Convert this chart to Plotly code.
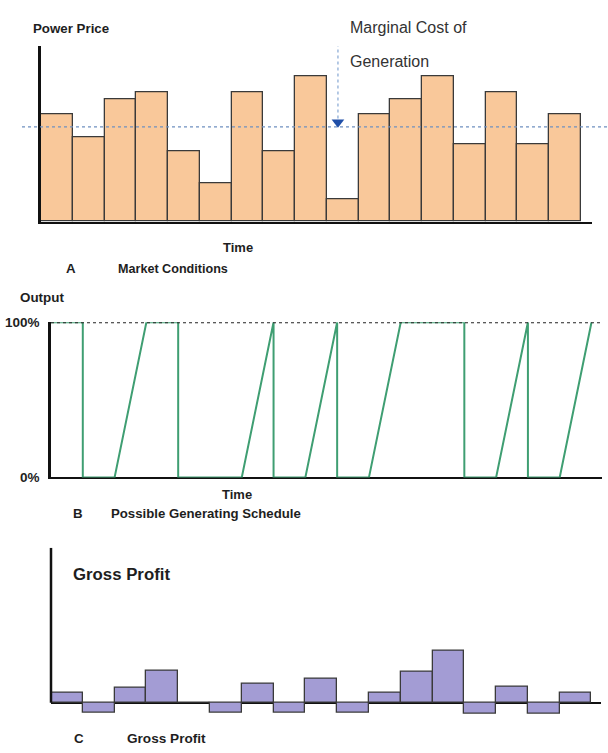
import plotly.graph_objects as go

# ---- data -------------------------------------------------------------
periods = list(range(1, 18))

# power price in each period (arbitrary units)
power_price = [30.5, 24, 35, 37, 20, 11, 37, 20, 41.5, 6.5, 30.5, 35, 41.5, 22, 37, 22, 30.5]
marginal_cost = 27

# plant output (% of capacity) at the start and end of each period
output_start = [100, 0, 0, 100, 0, 0, 0, 0, 0, 0, 0, 100, 100, 0, 0, 0, 0]
output_end = [100, 0, 100, 100, 0, 0, 100, 0, 100, 0, 100, 100, 100, 0, 100, 0, 100]

# gross profit per period (arbitrary units)
gross_profit = [3.4, -3.3, 4.8, 10.2, 0, -3.3, 6.3, -3.3, 7.7, -3.3, 3.4, 10.1, 16.9, -3.6, 5.3, -3.6, 3.4]

# ---- page geometry helpers ----------------------------------------------
W, H = 608, 753


def px(x):
    return x / W


def py(y):
    return 1 - y / H


FONT = "Liberation Sans, Arial, sans-serif"
INK = "#1e1e1e"

fig = go.Figure()

# Panel A: market prices
fig.add_trace(go.Bar(
    x=[p - 0.5 for p in periods], y=power_price, width=1,
    marker=dict(color="#F9C89A", line=dict(color="#3a3a3a", width=1.3)),
    xaxis="x", yaxis="y", showlegend=False, hoverinfo="skip",
))

# arrow head pointing at the marginal cost line
ARROW_X = 9.35
fig.add_trace(go.Scatter(
    x=[ARROW_X], y=[marginal_cost + 1.35], mode="markers",
    marker=dict(symbol="triangle-down", size=11, color="#1f4fa8"),
    xaxis="x", yaxis="y", showlegend=False, hoverinfo="skip", cliponaxis=False,
))

# Panel B: generating schedule
sx, sy = [], []
for i, (a, b) in enumerate(zip(output_start, output_end)):
    sx += [i, i + 1]
    sy += [a, b]
fig.add_trace(go.Scatter(
    x=sx, y=sy, mode="lines",
    line=dict(color="#3f9e72", width=2),
    xaxis="x2", yaxis="y2", showlegend=False, hoverinfo="skip", cliponaxis=False,
))

# Panel C: gross profit
fig.add_trace(go.Bar(
    x=[p - 0.5 for p in periods], y=gross_profit, width=1,
    marker=dict(color="#A39CD4", line=dict(color="#3a3a3a", width=1.3)),
    xaxis="x3", yaxis="y3", showlegend=False, hoverinfo="skip",
))

axis_common = dict(showgrid=False, zeroline=False, showticklabels=False, ticks="", fixedrange=True)

fig.update_layout(
    width=W, height=H,
    margin=dict(l=0, r=0, t=0, b=0),
    paper_bgcolor="white", plot_bgcolor="white",
    bargap=0,
    xaxis=dict(axis_common, domain=[px(41), px(592)], range=[0, 17.35],
               showline=True, linecolor="#111", linewidth=2, anchor="y"),
    yaxis=dict(axis_common, domain=[py(219), py(40)], range=[0, 50],
               showline=True, linecolor="#111", linewidth=2.5, anchor="x"),
    xaxis2=dict(axis_common, domain=[px(51), px(602)], range=[0, 17.33],
                showline=True, linecolor="#111", linewidth=2, anchor="y2", layer="below traces"),
    yaxis2=dict(axis_common, domain=[py(480), py(321.7)], range=[0, 100],
                showline=True, linecolor="#111", linewidth=2.5, anchor="x2",
                showticklabels=True, tickvals=[0, 100], ticktext=["<b>0%</b>", "<b>100%</b>"],
                tickfont=dict(family=FONT, size=13.5, color=INK), ticklabelstandoff=6),
    xaxis3=dict(axis_common, domain=[px(51), px(601)], range=[0, 17.3], showline=False, anchor="y3"),
    yaxis3=dict(axis_common, domain=[py(725.8), py(551.7)], range=[-5, 50], showline=False,
                zeroline=True, zerolinecolor="#111", zerolinewidth=2, anchor="x3"),
)

shapes = [
    # marginal cost of generation
    dict(type="line", xref="paper", x0=px(22), x1=1, yref="y", y0=marginal_cost, y1=marginal_cost,
         line=dict(color="#6f90c0", width=1.2, dash="dot")),
    # arrow shaft
    dict(type="line", xref="x", x0=ARROW_X, x1=ARROW_X, yref="y", y0=marginal_cost + 2.4, y1=50.6,
         line=dict(color="#9db8dc", width=1.5, dash="dot")),
    # full-output reference
    dict(type="line", xref="x2 domain", x0=0, x1=1, yref="y2", y0=100, y1=100,
         line=dict(color="#222", width=2, dash="dot")),
    # profit axis (positive side only)
    dict(type="line", xref="x3 domain", x0=0, x1=0, yref="y3", y0=0, y1=50,
         line=dict(color="#111", width=2.5)),
]
fig.update_layout(shapes=shapes)


def label(text, x, y, size=13.3, bold=True, anchor="left", color=INK):
    fig.add_annotation(
        text=f"<b>{text}</b>" if bold else text,
        xref="paper", yref="paper", x=px(x), y=py(y),
        xanchor=anchor, yanchor="middle", showarrow=False,
        font=dict(family=FONT, size=size, color=color),
    )


label("Power Price", 31, 22, size=13.3)
label("Marginal Cost of", 348, 21, size=16, bold=False, color="#333")
label("Generation", 348, 56, size=16, bold=False, color="#333")
label("Time", 238, 245, size=13, anchor="center")
label("A", 64, 267)
label("Market Conditions", 116, 267, size=12.6)

label("Output", 18, 296, size=13.4)
label("Time", 237, 497, size=13, anchor="center")
label("B", 71, 517)
label("Possible Generating Schedule", 109, 517, size=13.2)

label("Gross Profit", 71, 579, size=16.8)
label("C", 72, 746)
label("Gross Profit", 125, 746, size=13.6)

fig.write_html("out.html")
